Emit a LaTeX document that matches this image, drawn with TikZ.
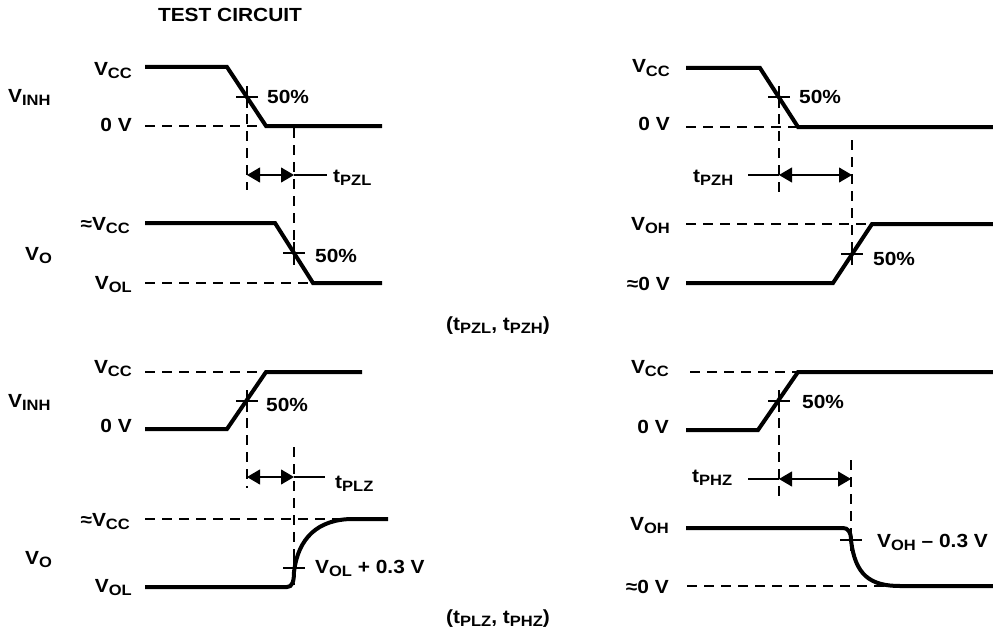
\documentclass[tikz,border=0pt]{standalone}
\usepackage{fontspec}
\setmainfont{Liberation Sans}[FakeStretch=1.1]
\usepackage{tikz}
\usetikzlibrary{arrows.meta}

\newcommand{\lsub}[1]{\raisebox{-3.5pt}{\fontsize{15}{15}\selectfont #1}}
\newcommand{\crossat}[1]{\draw[tick] ([xshift=-11pt]#1) -- ([xshift=11pt]#1)
  ([yshift=-11pt]#1) -- ([yshift=11pt]#1);}

\begin{document}
\begin{tikzpicture}[x=1pt, y=-1pt]
  \tikzstyle{sig} = [line width=4pt]
  \tikzstyle{ref} = [line width=1.1pt, dash pattern=on 10pt off 7pt]
  \tikzstyle{tick} = [line width=1.1pt]
  \tikzstyle{dim} = [line width=1.1pt,
    {Triangle[length=13pt,width=15pt]}-{Triangle[length=13pt,width=15pt]}]
  \tikzstyle{lbl} = [font=\fontsize{19}{21}\selectfont\bfseries, inner sep=0pt]
  \tikzstyle{lvl} = [lbl, anchor=base east]
  \tikzstyle{tag} = [lbl, anchor=base west]

  \useasboundingbox (0,0) rectangle (993,634);

  \node[lbl, anchor=base] (title) at (230,22) {TEST CIRCUIT};

  % enable, low-going output
  \node[tag] (inh1) at (8,102) {V\lsub{INH}};
  \node[lvl] (vcc1) at (132,75) {V\lsub{CC}};
  \node[lvl] (gnd1) at (132,131) {0 V};
  \node[tag] (pct1) at (267,103) {50\%};
  \draw[sig] (145,67) -- (227,67) -- (266,126) -- (382,126);
  \draw[ref] (145,126) -- (266,126);
  \coordinate (m1) at (247,97);
  \coordinate (m2) at (294,253);
  \crossat{m1}
  \draw[ref] (m1) -- (247,190);
  \draw[ref] (294,128) -- (294,265);
  \coordinate (d1a) at (247,175);
  \coordinate (d1b) at (294,175);
  \draw[dim] (d1a) -- (d1b);
  \node[tag] (tpzl) at (333,182) {t\lsub{PZL}};
  \coordinate (d1c) at (327,175);
  \draw[tick] (d1b) -- (d1c);

  \node[tag] (vo1) at (25,260) {V\lsub{O}};
  \node[lvl] (avcc1) at (130,230) {≈V\lsub{CC}};
  \node[lvl] (vol1) at (132,289) {V\lsub{OL}};
  \node[tag] (pct2) at (315,262) {50\%};
  \draw[sig] (145,223) -- (275,223) -- (313,283) -- (382,283);
  \draw[ref] (145,283) -- (313,283);
  \crossat{m2}

  % enable, high-going output
  \node[lvl] (vcc2) at (670,73) {V\lsub{CC}};
  \node[lvl] (gnd2) at (670,130) {0 V};
  \node[tag] (pct3) at (799,103) {50\%};
  \draw[sig] (686,68) -- (760,68) -- (798,127) -- (993,127);
  \draw[ref] (686,127) -- (798,127);
  \coordinate (m3) at (779,97);
  \coordinate (m4) at (852,254);
  \crossat{m3}
  \draw[ref] (m3) -- (779,197);
  \draw[ref] (852,140) -- (852,262);
  \coordinate (d2a) at (779,175);
  \coordinate (d2b) at (852,175);
  \draw[dim] (d2a) -- (d2b);
  \node[tag] (tpzh) at (693,182) {t\lsub{PZH}};
  \coordinate (d2c) at (748,175);
  \draw[tick] (d2c) -- (d2a);

  \node[lvl] (voh2) at (670,230) {V\lsub{OH}};
  \node[lvl] (azero2) at (670,290) {≈0 V};
  \node[tag] (pct4) at (873,265) {50\%};
  \draw[sig] (686,283) -- (833,283) -- (872,224) -- (993,224);
  \draw[ref] (686,224) -- (872,224);
  \crossat{m4}

  \node[lbl, anchor=base] (cap1) at (498,330) {(t\lsub{PZL}, t\lsub{PZH})};

  % disable, from low
  \node[tag] (inh3) at (8,407) {V\lsub{INH}};
  \node[lvl] (vcc3) at (132,373) {V\lsub{CC}};
  \node[lvl] (gnd3) at (132,432) {0 V};
  \node[tag] (pct5) at (266,411) {50\%};
  \draw[sig] (145,429) -- (227,429) -- (266,372) -- (362,372);
  \draw[ref] (145,372) -- (266,372);
  \coordinate (m5) at (247,401);
  \coordinate (m6) at (294,568);
  \crossat{m5}
  \draw[ref] (m5) -- (247,488);
  \draw[ref] (294,447) -- (294,585);
  \coordinate (d3a) at (247,477);
  \coordinate (d3b) at (294,477);
  \draw[dim] (d3a) -- (d3b);
  \node[tag] (tplz) at (335,488) {t\lsub{PLZ}};
  \coordinate (d3c) at (325,477);
  \draw[tick] (d3b) -- (d3c);

  \node[tag] (vo3) at (25,564) {V\lsub{O}};
  \node[lvl] (avcc3) at (130,526) {≈V\lsub{CC}};
  \node[lvl] (vol3) at (132,592) {V\lsub{OL}};
  \node[tag] (plus3) at (315,573) {V\lsub{OL} + 0.3 V};
  \draw[sig] (145,587) -- (287,587) .. controls (292,587) and (294,582) .. (294,572)
    .. controls (298,538) and (318,519) .. (353,519) -- (388,519);
  \draw[ref] (145,519) -- (353,519);
  \crossat{m6}

  % disable, from high
  \node[lvl] (vcc4) at (669,373) {V\lsub{CC}};
  \node[lvl] (gnd4) at (669,433) {0 V};
  \node[tag] (pct7) at (802,408) {50\%};
  \draw[sig] (686,430) -- (758,430) -- (798,372) -- (993,372);
  \draw[ref] (690,372) -- (798,372);
  \coordinate (m7) at (779,401);
  \coordinate (m8) at (851,540);
  \crossat{m7}
  \draw[ref] (m7) -- (779,498);
  \draw[ref] (851,460) -- (851,548);
  \coordinate (d4a) at (779,479);
  \coordinate (d4b) at (851,479);
  \draw[dim] (d4a) -- (d4b);
  \node[tag] (tphz) at (692,482) {t\lsub{PHZ}};
  \coordinate (d4c) at (748,479);
  \draw[tick] (d4c) -- (d4a);

  \node[lvl] (voh4) at (669,530) {V\lsub{OH}};
  \node[lvl] (azero4) at (669,593) {≈0 V};
  \node[tag] (minus4) at (877,547) {V\lsub{OH} – 0.3 V};
  \draw[sig] (686,528) -- (843,528) .. controls (848,528) and (851,532) .. (851,540)
    .. controls (855,575) and (870,586) .. (900,586) -- (993,586);
  \draw[ref] (687,586) -- (900,586);
  \crossat{m8}

  \node[lbl, anchor=base] (cap2) at (498,623) {(t\lsub{PLZ}, t\lsub{PHZ})};
\end{tikzpicture}
\end{document}
